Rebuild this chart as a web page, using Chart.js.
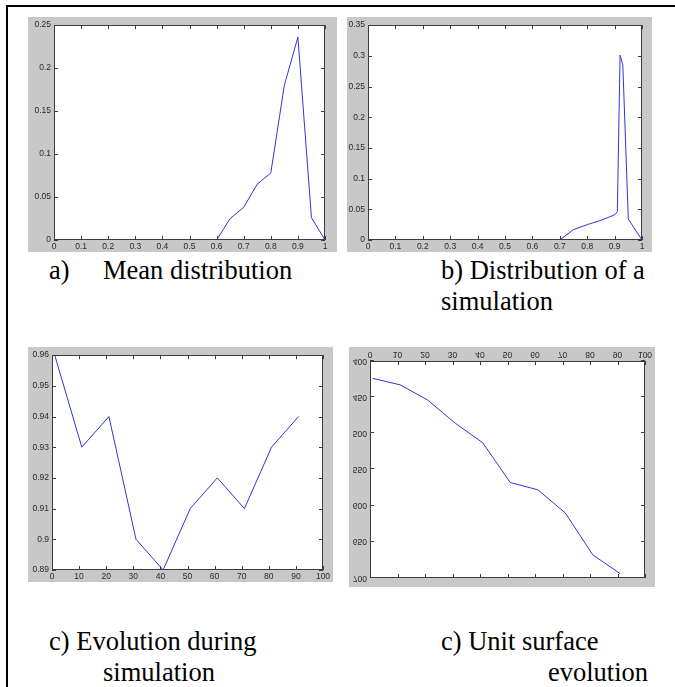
<!DOCTYPE html>
<html>
<head>
<meta charset="utf-8">
<script src="https://cdn.jsdelivr.net/npm/chart.js@4.4.1/dist/chart.umd.min.js"></script>
<style>
  html, body { margin: 0; padding: 0; background: #fff; }
  body { width: 675px; height: 687px; position: relative; overflow: hidden; }
  .frame-top { position: absolute; left: 6px; top: 5px; width: 669px; height: 2px; background: #000; }
  .frame-left { position: absolute; left: 6px; top: 5px; width: 2px; height: 682px; background: #000; }
  .panel { position: absolute; background: #c8c8c8; }
  .panel canvas { display: block; }
  .flip { transform: scaleY(-1); }
  .cap { position: absolute; font-family: "Liberation Serif", "DejaVu Serif", serif; font-size: 26.5px; color: #000; white-space: pre; line-height: 30px; }
</style>
</head>
<body>
<div class="frame-top"></div>
<div class="frame-left"></div>

<div class="panel" style="left:28px; top:17px;"><canvas id="chartA" width="309" height="235"></canvas></div>
<div class="panel" style="left:347px; top:17px;"><canvas id="chartB" width="305" height="235"></canvas></div>
<div class="panel" style="left:28px; top:347px;"><canvas id="chartC" width="305" height="235"></canvas></div>
<div class="panel" style="left:349px; top:347px;"><canvas id="chartD" class="flip" width="306" height="240"></canvas></div>

<div class="cap" style="left:49px; top:255px;">a)</div>
<div class="cap" style="left:103px; top:255px;">Mean distribution</div>
<div class="cap" style="left:441px; top:255px;">b) Distribution of a</div>
<div class="cap" style="left:441px; top:286px;">simulation</div>
<div class="cap" style="left:49px; top:626px;">c) Evolution during</div>
<div class="cap" style="left:103px; top:657px;">simulation</div>
<div class="cap" style="left:441px; top:626px;">c) Unit surface</div>
<div class="cap" style="left:548px; top:657px;">evolution</div>

<script>
// a) mean distribution
const meanX = [0, 0.05, 0.1, 0.15, 0.2, 0.25, 0.3, 0.35, 0.4, 0.45, 0.5, 0.55, 0.6, 0.65, 0.7, 0.75, 0.8, 0.85, 0.9, 0.95, 1];
const meanY = [0, 0, 0, 0, 0, 0, 0, 0, 0, 0, 0, 0, 0, 0.025, 0.038, 0.065, 0.078, 0.18, 0.236, 0.026, 0];

// b) distribution of one simulation
const simX = [0, 0.7, 0.75, 0.8, 0.85, 0.9, 0.91, 0.92, 0.93, 0.95, 1];
const simY = [0, 0, 0.017, 0.025, 0.032, 0.041, 0.046, 0.301, 0.285, 0.034, 0];

// c) evolution during simulation
const evoX = [1, 11, 21, 31, 41, 51, 61, 71, 81, 91];
const evoY = [0.96, 0.93, 0.94, 0.90, 0.89, 0.91, 0.92, 0.91, 0.93, 0.94];

// d) unit surface evolution (the source figure is printed upside down)
const surfX = [1, 11, 21, 31, 41, 51, 61, 71, 81, 91];
const surfY = [424, 433, 454, 486, 513, 568, 578, 610, 668, 694];

const LINE_COLOR = '#3434d8';
const AXIS_COLOR = '#3c3c3c';
const LABEL_COLOR = '#2a2a2a';
const TICK_FONT = { family: 'Liberation Sans, Arial, sans-serif', size: 8.5 };

const fmt = v => String(+v.toFixed(4));

// white plot area, then a MATLAB style box with inward ticks on all four sides
const boxTicks = {
  id: 'boxTicks',
  beforeDraw(chart) {
    const { ctx, chartArea: a } = chart;
    ctx.save();
    ctx.fillStyle = '#ffffff';
    ctx.fillRect(a.left, a.top, a.right - a.left, a.bottom - a.top);
    ctx.restore();
  },
  afterDraw(chart) {
    const { ctx, chartArea: a, scales: { x, y } } = chart;
    const len = 4;
    ctx.save();
    ctx.strokeStyle = AXIS_COLOR;
    ctx.lineWidth = 1;
    ctx.strokeRect(Math.round(a.left) + 0.5, Math.round(a.top) + 0.5,
      Math.round(a.right - a.left) - 1, Math.round(a.bottom - a.top) - 1);
    ctx.beginPath();
    x.ticks.forEach(t => {
      const px = Math.round(x.getPixelForValue(t.value)) + 0.5;
      ctx.moveTo(px, a.bottom); ctx.lineTo(px, a.bottom - len);
      ctx.moveTo(px, a.top); ctx.lineTo(px, a.top + len);
    });
    y.ticks.forEach(t => {
      const py = Math.round(y.getPixelForValue(t.value)) + 0.5;
      ctx.moveTo(a.left, py); ctx.lineTo(a.left + len, py);
      ctx.moveTo(a.right, py); ctx.lineTo(a.right - len, py);
    });
    ctx.stroke();
    ctx.restore();
  }
};

function makeChart(id, xs, ys, cfg) {
  const pts = xs.map((x, i) => ({ x, y: ys[i] }));
  return new Chart(document.getElementById(id), {
    type: 'line',
    data: {
      datasets: [{
        data: pts,
        borderColor: LINE_COLOR,
        borderWidth: 1,
        pointRadius: 0,
        tension: 0,
        fill: false,
      }]
    },
    options: {
      responsive: false,
      animation: false,
      parsing: false,
      layout: { padding: cfg.padding },
      plugins: { legend: { display: false }, tooltip: { enabled: false } },
      scales: {
        x: {
          type: 'linear',
          min: cfg.xMin, max: cfg.xMax,
          grid: { display: false, drawTicks: false },
          border: { display: false },
          ticks: { stepSize: cfg.xStep, color: LABEL_COLOR, font: TICK_FONT, padding: 2, maxRotation: 0, autoSkip: false, callback: fmt },
          afterFit: s => { s.height = cfg.xH; }
        },
        y: {
          min: cfg.yMin, max: cfg.yMax,
          grid: { display: false, drawTicks: false },
          border: { display: false },
          ticks: { stepSize: cfg.yStep, color: LABEL_COLOR, font: TICK_FONT, padding: 3, autoSkip: false, callback: fmt },
          afterFit: s => { s.width = cfg.yW; }
        }
      }
    },
    plugins: [boxTicks]
  });
}

makeChart('chartA', meanX, meanY, {
  xMin: 0, xMax: 1, xStep: 0.1, yMin: 0, yMax: 0.25, yStep: 0.05,
  yW: 26, xH: 12, padding: { left: 0, right: 12, top: 8, bottom: 0 }
});
makeChart('chartB', simX, simY, {
  xMin: 0, xMax: 1, xStep: 0.1, yMin: 0, yMax: 0.35, yStep: 0.05,
  yW: 21, xH: 12, padding: { left: 0, right: 10, top: 8, bottom: 0 }
});
makeChart('chartC', evoX, evoY, {
  xMin: 0, xMax: 100, xStep: 10, yMin: 0.89, yMax: 0.96, yStep: 0.01,
  yW: 24, xH: 12, padding: { left: 0, right: 10, top: 7, bottom: 0 }
});
makeChart('chartD', surfX, surfY, {
  xMin: 0, xMax: 100, xStep: 10, yMin: 400, yMax: 700, yStep: 50,
  yW: 21, xH: 14, padding: { left: 0, right: 10, top: 9, bottom: 0 }
});
</script>
</body>
</html>
